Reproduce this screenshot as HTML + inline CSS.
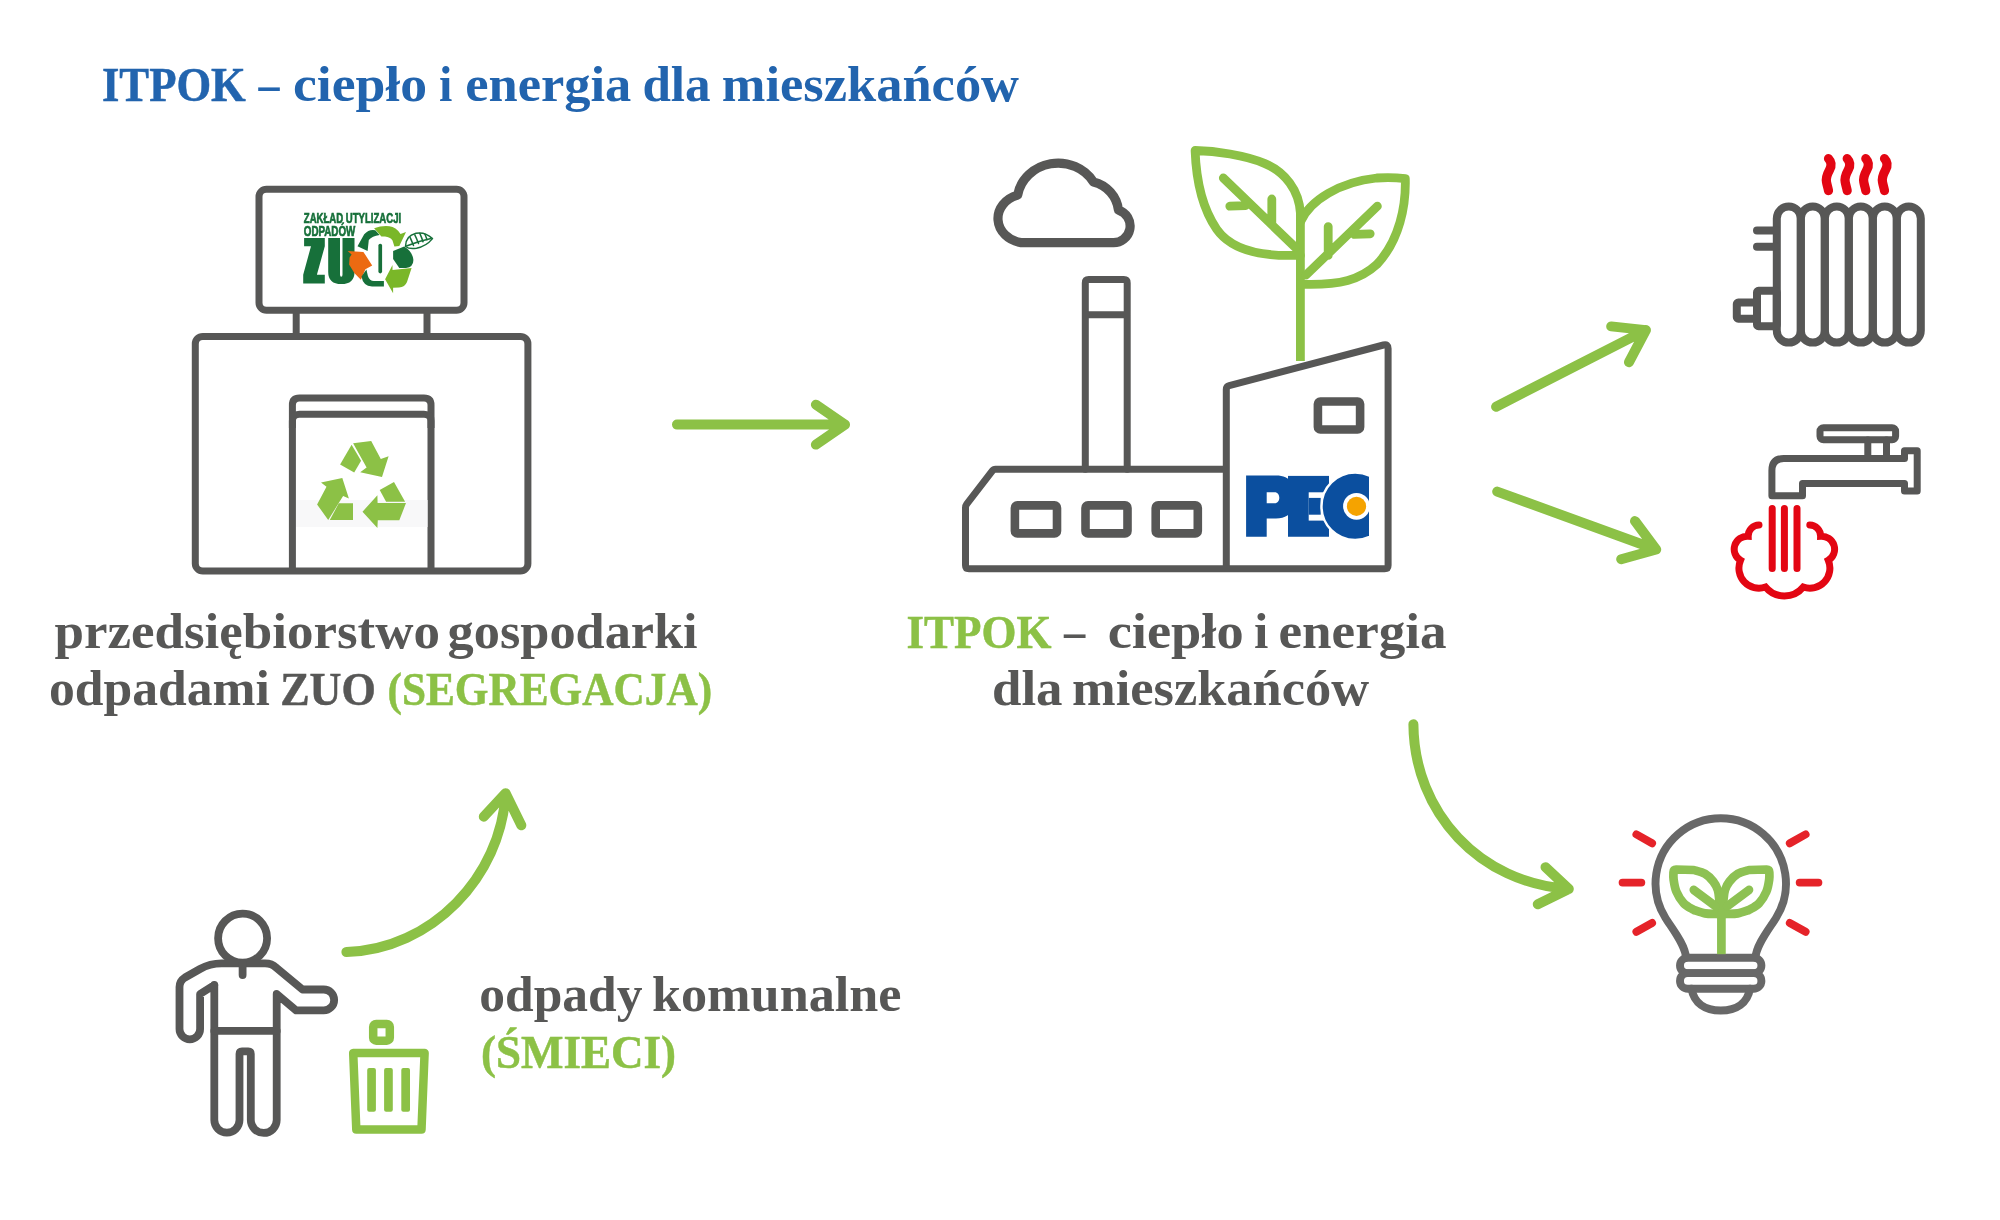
<!DOCTYPE html>
<html lang="pl">
<head>
<meta charset="utf-8">
<title>ITPOK – ciepło i energia dla mieszkańców</title>
<style>
html,body{margin:0;padding:0;background:#fff;}
body{width:2000px;height:1220px;overflow:hidden;position:relative;}
svg{position:absolute;left:0;top:0;}
.t{font-family:"Liberation Serif",serif;}
</style>
</head>
<body>
<svg style="will-change:transform" width="2000" height="1220" viewBox="0 0 2000 1220" font-family="Liberation Serif">
<rect width="2000" height="1220" fill="#fff"/>

<!-- ===== TEXT ===== -->
<g class="t">
  <text x="102.00" y="101.30" font-size="48.00" font-weight="bold" fill="#2264ae" stroke="#2264ae" stroke-width="0.5" textLength="143.82" lengthAdjust="spacingAndGlyphs">ITPOK</text>
  <text x="258.43" y="101.30" font-size="51.50" font-weight="bold" fill="#2264ae" textLength="21.02" lengthAdjust="spacingAndGlyphs">–</text>
  <text x="292.98" y="101.30" font-size="51.50" font-weight="bold" fill="#2264ae" textLength="134.15" lengthAdjust="spacingAndGlyphs">ciepło</text>
  <text x="438.91" y="101.30" font-size="51.50" font-weight="bold" fill="#2264ae" textLength="13.35" lengthAdjust="spacingAndGlyphs">i</text>
  <text x="465.21" y="101.30" font-size="51.50" font-weight="bold" fill="#2264ae" textLength="166.07" lengthAdjust="spacingAndGlyphs">energia</text>
  <text x="642.42" y="101.30" font-size="51.50" font-weight="bold" fill="#2264ae" textLength="68.22" lengthAdjust="spacingAndGlyphs">dla</text>
  <text x="721.82" y="101.30" font-size="51.50" font-weight="bold" fill="#2264ae" textLength="297.18" lengthAdjust="spacingAndGlyphs">mieszkańców</text>
  <text x="54.50" y="648.30" font-size="50.50" font-weight="bold" fill="#575756" textLength="385.42" lengthAdjust="spacingAndGlyphs">przedsiębiorstwo</text>
  <text x="447.61" y="648.30" font-size="50.50" font-weight="bold" fill="#575756" textLength="250.03" lengthAdjust="spacingAndGlyphs">gospodarki</text>
  <text x="49.02" y="705.40" font-size="50.50" font-weight="bold" fill="#575756" textLength="220.95" lengthAdjust="spacingAndGlyphs">odpadami</text>
  <text x="280.15" y="705.40" font-size="47.00" font-weight="bold" fill="#575756" stroke="#575756" stroke-width="0.5" textLength="95.73" lengthAdjust="spacingAndGlyphs">ZUO</text>
  <text x="387.51" y="705.40" font-size="47.00" font-weight="bold" fill="#8cc146" stroke="#8cc146" stroke-width="0.5" textLength="324.60" lengthAdjust="spacingAndGlyphs">(SEGREGACJA)</text>
  <text x="906.50" y="648.30" font-size="47.00" font-weight="bold" fill="#8cc146" stroke="#8cc146" stroke-width="0.5" textLength="144.86" lengthAdjust="spacingAndGlyphs">ITPOK</text>
  <text x="1064.00" y="648.30" font-size="50.50" font-weight="bold" fill="#575756" textLength="21.25" lengthAdjust="spacingAndGlyphs">–</text>
  <text x="1107.68" y="648.30" font-size="50.50" font-weight="bold" fill="#575756" textLength="136.01" lengthAdjust="spacingAndGlyphs">ciepło</text>
  <text x="1253.92" y="648.30" font-size="50.50" font-weight="bold" fill="#575756" textLength="14.36" lengthAdjust="spacingAndGlyphs">i</text>
  <text x="1278.50" y="648.30" font-size="50.50" font-weight="bold" fill="#575756" textLength="168.11" lengthAdjust="spacingAndGlyphs">energia</text>
  <text x="991.96" y="705.40" font-size="50.50" font-weight="bold" fill="#575756" textLength="70.63" lengthAdjust="spacingAndGlyphs">dla</text>
  <text x="1072.02" y="705.40" font-size="50.50" font-weight="bold" fill="#575756" textLength="297.09" lengthAdjust="spacingAndGlyphs">mieszkańców</text>
  <text x="479.31" y="1011.00" font-size="50.50" font-weight="bold" fill="#575756" textLength="163.11" lengthAdjust="spacingAndGlyphs">odpady</text>
  <text x="651.91" y="1011.00" font-size="50.50" font-weight="bold" fill="#575756" textLength="249.63" lengthAdjust="spacingAndGlyphs">komunalne</text>
  <text x="481.00" y="1068.10" font-size="47.00" font-weight="bold" fill="#8cc146" stroke="#8cc146" stroke-width="0.5" textLength="194.92" lengthAdjust="spacingAndGlyphs">(ŚMIECI)</text>
</g>

<!-- ===== ZUO BUILDING ===== -->
<g fill="none" stroke="#575756" stroke-width="7" stroke-linejoin="round">
  <rect x="259" y="189.3" width="205" height="121" rx="7.5"/>
  <line x1="296.2" y1="310" x2="296.2" y2="336.4"/>
  <line x1="427" y1="310" x2="427" y2="336.4"/>
  <rect x="195.3" y="336.4" width="332.6" height="234.6" rx="7.5"/>
  <path d="M292.4,571 V405 Q292.4,398 299.4,398 H424 Q431,398 431,405 V571"/>
  <path d="M292.4,428 V421 Q292.4,414.2 299.4,414.2 H424 Q431,414.2 431,421 V428"/>
</g>
<rect x="296" y="500" width="131.5" height="27" fill="#f8f8f9"/>
<g fill="#8cc146">
  <polygon points="340.1,464.5 351.6,444.7 361.1,460.7 354.2,472.6"/>
  <polygon points="353.1,443.2 371.2,441.1 380.8,459 388.6,456.2 382,476.9 360.2,472.2 366.6,467.6"/>
  <polygon points="321,482.4 342.3,478.1 348.9,498.6 343.1,496.1 328.2,519.9 317.1,504.5 326.5,486.7"/>
  <polygon points="329.8,520.1 338.8,503.3 353,503.3 353,520.1"/>
  <polygon points="379.7,489.9 394,482 405.1,501.7 386.1,501.7"/>
  <polygon points="362.5,511.7 377.4,495.3 377.6,503.1 406,503.1 399.3,520.2 377.8,520.2 377.4,527.9"/>
</g>

<!-- ZUO logo -->
<g>
  <text x="303.8" y="222.6" font-family="Liberation Sans" font-weight="bold" font-size="14.8" fill="#17703a" stroke="#17703a" stroke-width="0.7" textLength="97.4" lengthAdjust="spacingAndGlyphs">ZAKŁAD UTYLIZACJI</text>
  <text x="303.8" y="235.5" font-family="Liberation Sans" font-weight="bold" font-size="14.4" fill="#17703a" stroke="#17703a" stroke-width="0.7" textLength="51.5" lengthAdjust="spacingAndGlyphs">ODPADÓW</text>
  <path fill="#17703a" d="M304.10,238.10 L324.80,238.10 L324.80,246.20 L316.90,274.70 L324.80,274.70 L324.80,283.60 L303.20,283.60 L303.20,274.70 L311.00,246.20 L304.10,246.20 Z"/>
  <path fill="#17703a" d="M328.2,238.1 H340 V274.5 Q340,276.7 341.25,276.7 Q342.5,276.7 342.5,274.5 V238.1 H354.5 V272 Q354.5,284.1 341.3,284.1 Q328.2,284.1 328.2,272 Z"/>
  <path fill="#ec6a12" d="M347.70,251.10 L363.40,251.90 L372.20,265.40 L365.40,269.30 L360.90,279.70 L354.50,273.30 L349.10,264.40 L349.60,257.50 L351.60,254.60 Z"/>
  <path fill="#17703a" d="M357.5,246.3 L364.2,234.3 Q369,229 375.3,230.3 L379.6,234.9 Q372,236 368.8,240 L367.6,250.9 Z"/>
  <path fill="#17703a" d="M366.4,269.4 L367.9,276 Q369.5,281 374,281 L383.9,281 L383.9,286.6 L372,286.6 Q363,286 361.5,276.5 Z"/>
  <path fill="#7ab728" d="M374.1,228.2 Q382,225.5 389.4,226.3 Q396,227 400.5,234 L406,232.1 L399.3,246 L394.4,246.6 L392.5,240.5 Q390,237 385,236.6 L381.4,236.5 Z"/>
  <path fill="#17703a" d="M393.1,250.9 L404.2,246.6 Q412.8,252 413.4,260 Q413.4,267 406,268.1 L399.3,268.1 L393.1,258.9 Z"/>
  <path fill="#7ab728" d="M385.1,279.2 L392.5,265.1 L392.5,270 L411.6,268.1 L407,282 Q405,287 399,287.5 L393.1,287.8 L393.1,293.3 Z"/>
  <rect x="378.4" y="243.8" width="3.7" height="29.6" rx="1.8" fill="#17703a"/>
  <g fill="none" stroke="#17703a" stroke-width="1.5" stroke-linecap="round" stroke-linejoin="round">
    <path d="M405.5,246.5 C405.5,240 409,235 416,233.3 C422,232 428,234.5 432.5,238.6 C428.5,243.5 423,247 416.5,248.2 C411.5,249 407.5,248 405.5,246.5 Z"/>
    <path d="M406.5,246 C414,243 422,240.5 431,238.6"/>
    <path d="M410.2,237.6 C411.5,240.5 412.5,243 413.5,245.5 M414.8,234.8 C416.5,238 417.5,240.8 418.5,243.6 M419.8,233.4 C421.2,236.5 422.2,239 423,241.8 M424.8,234 C425.8,236.2 426.5,238 427,239.8"/>
  </g>
</g>

<!-- ===== ARROWS ===== -->
<g fill="none" stroke="#8cc146" stroke-width="10" stroke-linecap="round" stroke-linejoin="round">
  <path d="M677,424.6 H845 M815.9,404.7 L845,424.6 L815.9,444.6"/>
  <path d="M1496.1,406.7 L1645.9,330.1 M1611.2,326.4 L1645.9,330.1 L1629,362.2"/>
  <path d="M1497.2,491.6 L1656.2,549.5 M1635,521.1 L1656.2,549.5 L1621.2,559.2"/>
  <path d="M1413.4,724.3 C1414.0,813.0 1480.1,883.1 1568.8,889 M1545.5,867.2 L1568.8,889 L1537.8,904.2"/>
  <path d="M346.4,952 C431.7,949.5 501.0,876.8 505.6,793.2 M483.8,816.7 L505.6,793.2 L521.3,825.3"/>
</g>

<!-- ===== FACTORY ===== -->
<g fill="none" stroke="#575756" stroke-linejoin="round" stroke-linecap="round">
  <path stroke-width="9.2" d="M1017.65,195.1 A28,24.5 0 0 0 1021,242.6 H1112.5 A16.6,16.6 0 0 0 1118.5,210.2 A32.9,32.9 0 0 0 1093.5,182 A41,38.2 0 0 0 1017.65,195.1 Z"/>
  <g stroke-width="7">
    <path d="M1085.3,469.3 V283 Q1085.3,279.6 1088.7,279.6 H1123.8 Q1127.2,279.6 1127.2,283 V469.3 M1085.3,314.8 H1127.2"/>
    <path d="M1226.3,469.3 H995.5 Q993.5,469.3 992.3,470.9 L966.7,504.1 Q965.5,505.7 965.5,507.7 V565.3 Q965.5,568.8 969,568.8 H1384.6 Q1388.1,568.8 1388.1,565.3 V348.5 Q1388.1,343.8 1383.5,345 L1229.2,385.7 Q1226.3,386.5 1226.3,389.5 V568.8"/>
  </g>
  <g stroke-width="8.6">
    <rect x="1014.9" y="505.4" width="42.1" height="28" rx="2.5"/>
    <rect x="1085.5" y="505.4" width="42" height="28" rx="2.5"/>
    <rect x="1155.7" y="505.4" width="42.1" height="28" rx="2.5"/>
    <rect x="1317.9" y="401.5" width="42.2" height="28" rx="2.5"/>
  </g>
</g>
<g fill="none" stroke="#8cc146" stroke-width="8.8" stroke-linecap="round" stroke-linejoin="round">
  <path stroke-linecap="butt" d="M1300.4,361 V213"/>
  <path d="M1300.4,213 C1299,190 1285,172 1265,163.6 C1245,155 1215,151 1195.1,150.5 C1196,175 1200,205 1216.7,229.2 C1230,248 1255,256 1291.5,255.4 H1300.4"/>
  <path d="M1223.3,178 L1295.4,247.5 M1245.6,205.6 L1229.8,206.2 M1271.8,223.9 V199"/>
  <path d="M1300.4,222 C1310,200 1340,182 1376.7,178 C1390,177 1400,178 1405.3,178.7 C1406,205 1400,240 1376.7,264.6 C1360,280 1340,285 1305,284.3 H1300.4"/>
  <path d="M1377.4,206.2 L1305.9,275.1 M1354.4,234.4 L1370.2,233.8 M1328.2,255.4 V226.6"/>
</g>
<g>
  <path fill="#0b4f9f" fill-rule="evenodd" d="M1246.1,475.5 H1276 C1291,475.5 1296,486 1296,497 C1296,509 1290,518.5 1276,518.5 H1266.7 V536.75 H1246.1 Z M1266.7,492.3 H1274.5 C1277.8,492.3 1279.3,495 1279.3,497.7 C1279.3,500.5 1277.8,503.2 1274.5,503.2 H1266.7 Z"/>
  <rect x="1288" y="475.9" width="41" height="60.85" fill="#0b4f9f"/>
  <rect x="1308.7" y="492.3" width="17" height="28.3" fill="#fff"/>
  <rect x="1308.7" y="497.9" width="12" height="16.8" fill="#0b4f9f"/>
  <clipPath id="pecc"><rect x="1300" y="460" width="68.9" height="90"/></clipPath>
  <g clip-path="url(#pecc)">
    <circle cx="1355.2" cy="506.3" r="33.7" fill="#0b4f9f" stroke="#fff" stroke-width="2.4"/>
    <circle cx="1356.5" cy="506.3" r="13.4" fill="#fff"/>
    <circle cx="1356.5" cy="506.3" r="9.6" fill="#f5a300"/>
  </g>
</g>

<!-- ===== RADIATOR ===== -->
<g fill="none" stroke="#575756" stroke-width="8" stroke-linecap="round" stroke-linejoin="round">
  <rect x="1776.8" y="206.5" width="24" height="136.1" rx="12"/><rect x="1800.8" y="206.5" width="24" height="136.1" rx="12"/><rect x="1824.8" y="206.5" width="24" height="136.1" rx="12"/><rect x="1848.8" y="206.5" width="24" height="136.1" rx="12"/><rect x="1872.8" y="206.5" width="24" height="136.1" rx="12"/><rect x="1896.8" y="206.5" width="24" height="136.1" rx="12"/>
  <path d="M1757,230.4 H1776 M1757,246.8 H1776"/>
  <rect x="1757" y="290.8" width="19.8" height="35.4" rx="1.5"/>
  <rect x="1736.8" y="302.6" width="20.2" height="16.1" rx="1.5"/>
</g>
<g fill="none" stroke="#e30613" stroke-width="9.2" stroke-linecap="round">
  <path d="M1828.5,158.6 C1831.7,162 1831.70,166 1829.5,170 C1827.3,174 1825.5,177 1826.5,182 C1827.0,185 1828.0,188 1828.5,190.6"/><path d="M1847.2,158.6 C1850.4,162 1850.40,166 1848.2,170 C1846.0,174 1844.2,177 1845.2,182 C1845.7,185 1846.7,188 1847.2,190.6"/><path d="M1865.8,158.6 C1869.0,162 1869.00,166 1866.8,170 C1864.6,174 1862.8,177 1863.8,182 C1864.3,185 1865.3,188 1865.8,190.6"/><path d="M1884.5,158.6 C1887.7,162 1887.70,166 1885.5,170 C1883.3,174 1881.5,177 1882.5,182 C1883.0,185 1884.0,188 1884.5,190.6"/>
</g>

<!-- ===== TAP ===== -->
<g fill="none" stroke="#575756" stroke-width="7" stroke-linecap="round" stroke-linejoin="round">
  <rect x="1820" y="427.8" width="75.6" height="11.9" rx="3.5"/>
  <path d="M1867.8,440 V458 M1886.5,440 V458"/>
  <path d="M1904.5,483.4 H1802.5 V495.8 H1771.9 V470.5 Q1771.9,458.6 1783.8,458.6 H1904.5 V450.7 H1917.2 V491.1 H1904.5 Z"/>
</g>
<g fill="none" stroke="#e30613" stroke-width="7" stroke-linecap="round">
  <path d="M1772.2,508.6 V568.4 M1784.4,508.6 V568.4 M1797,508.6 V568.4"/>
  <path d="M1759,525 A11,11 0 0 0 1748.2,536.2 A13,13 0 0 0 1740.5,560.3 A20,20 0 0 0 1765.5,587 A24.4,24.4 0 0 0 1803.3,587 A20,20 0 0 0 1828.3,560.3 A13,13 0 0 0 1820.6,536.2 A11,11 0 0 0 1809.8,525"/>
</g>

<!-- ===== BULB ===== -->
<g fill="none" stroke="#686868" stroke-width="7.9" stroke-linecap="round" stroke-linejoin="round">
  <path d="M1686,957.7 C1685.5,945 1671.9,928.2 1665.5,918 A65.2,65.2 0 1 1 1776,918 C1769.6,928.2 1756,945 1755.5,957.7"/>
  <rect x="1680" y="957.7" width="81.4" height="15.4" rx="7.7"/>
  <rect x="1680" y="973.1" width="81.4" height="15.6" rx="7.8"/>
  <path d="M1691.5,988.7 C1694,1003 1705,1010.5 1720.7,1010.5 C1736.5,1010.5 1747.5,1003 1750,988.7"/>
</g>
<g fill="none" stroke="#8dc153" stroke-width="8.7" stroke-linecap="round" stroke-linejoin="round">
  <path stroke-width="8.7" stroke-linecap="butt" d="M1721.4,905 V954.2"/>
  <path d="M1721.40,914.20 C1720.50,914.17 1718.73,914.13 1716.00,914.00 C1713.27,913.87 1708.70,914.07 1705.00,913.40 C1701.30,912.73 1695.67,910.57 1693.80,910.00 C1692.12,908.87 1686.60,906.27 1683.70,903.20 C1680.80,900.13 1678.08,895.55 1676.40,891.60 C1674.72,887.65 1674.08,882.77 1673.60,879.50 C1673.12,876.23 1673.52,873.25 1673.50,872.00 Q1673.5,869.5 1676,869.5 L1693.8,870 C1695.67,870.63 1701.75,871.88 1705.00,873.80 C1708.25,875.72 1711.17,878.80 1713.30,881.50 C1715.43,884.20 1716.80,886.92 1717.80,890.00 C1718.80,893.08 1719.00,896.33 1719.30,900.00 C1719.60,903.67 1719.55,910.00 1719.60,912.00"/>
  <path d="M1721.40,914.20 C1722.30,914.17 1724.07,914.13 1726.80,914.00 C1729.53,913.87 1734.10,914.07 1737.80,913.40 C1741.50,912.73 1747.13,910.57 1749.00,910.00 C1750.68,908.87 1756.20,906.27 1759.10,903.20 C1762.00,900.13 1764.72,895.55 1766.40,891.60 C1768.08,887.65 1768.72,882.77 1769.20,879.50 C1769.68,876.23 1769.28,873.25 1769.30,872.00 Q1769.3,869.5 1766.8,869.5 L1749,870 C1747.13,870.63 1741.05,871.88 1737.80,873.80 C1734.55,875.72 1731.63,878.80 1729.50,881.50 C1727.37,884.20 1726.00,886.92 1725.00,890.00 C1724.00,893.08 1723.80,896.33 1723.50,900.00 C1723.20,903.67 1723.25,910.00 1723.20,912.00"/>
  <path d="M1693.8,889.9 L1715.6,906.2 M1749,889.9 L1727.2,906.2"/>
</g>
<g stroke="#e52329" stroke-width="7.9" stroke-linecap="round">
  <path d="M1636.4,834.4 L1652.1,843.3 M1622.6,882.6 H1641.3 M1636.4,931.8 L1652.1,923 M1805.6,834.4 L1789.8,843.3 M1799.7,882.6 H1818.4 M1789.8,923 L1805.6,931.8"/>
</g>

<!-- ===== PERSON ===== -->
<g fill="none" stroke="#575756" stroke-width="7.8" stroke-linecap="round" stroke-linejoin="round">
  <circle cx="242.6" cy="938.2" r="24.5"/>
  <path d="M214.3,985 V1120 A12.6,12.6 0 0 0 239.5,1120 V1054 Q239.5,1051.4 242,1051.4 H248.3 Q250.8,1051.4 250.8,1054 V1120 A12.95,12.95 0 0 0 276.7,1120 V994 L296.2,1010.4 H323.7 A10.45,10.45 0 0 0 323.7,989.5 H302.5 L276,967.5 Q272,963.4 265,963.4 H221.6 Q210,963.4 200,969 L185,977.5 Q179.5,981 179.5,987 V1029 A10.3,10.3 0 0 0 200.1,1029 V994 L214.3,985"/>
  <path d="M214.3,1030.9 H276.7 M242.6,963.4 V975"/>
</g>
<g fill="none" stroke="#8cc146" stroke-width="8.5" stroke-linejoin="round">
  <rect x="373.2" y="1023.9" width="16.6" height="16.8" rx="3"/>
  <path d="M353.2,1052.9 H424.6 L421.5,1129.5 H356.3 Z"/>
</g>
<g fill="#8cc146">
  <rect x="367.2" y="1068.1" width="8.7" height="43.7" rx="2"/>
  <rect x="384.1" y="1068.1" width="8.7" height="43.7" rx="2"/>
  <rect x="401.3" y="1068.1" width="8.7" height="43.7" rx="2"/>
</g>

</svg>
</body>
</html>
